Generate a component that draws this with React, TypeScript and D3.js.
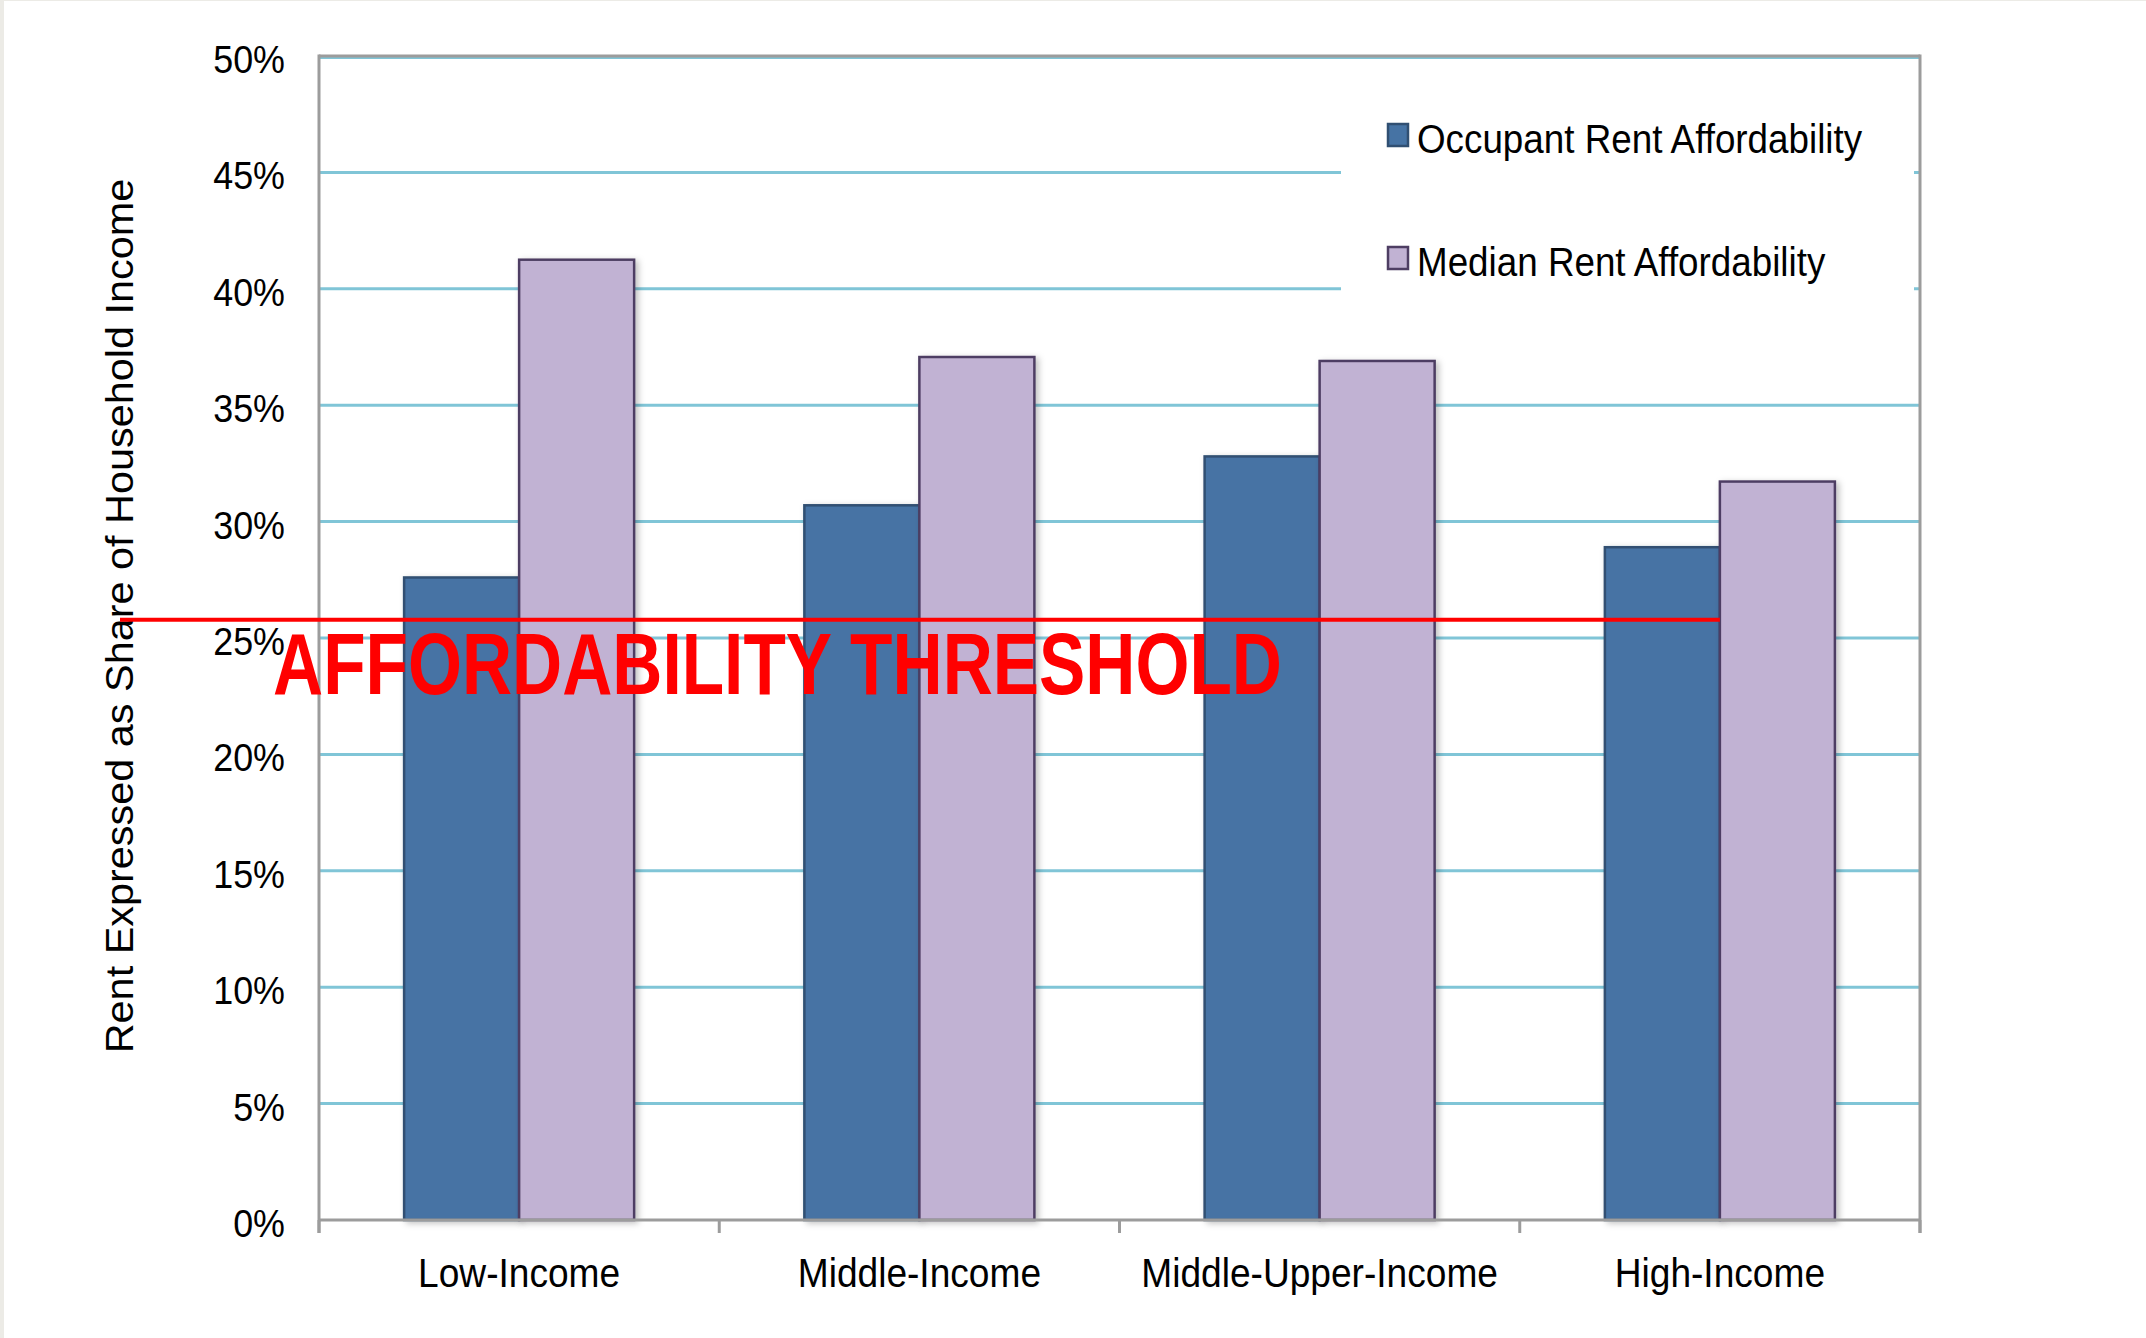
import React from "react";
import * as d3 from "d3";

const categories = ["Low-Income", "Middle-Income", "Middle-Upper-Income", "High-Income"];
const seriesNames = ["Occupant Rent Affordability", "Median Rent Affordability"];
const occupantValues = [27.6, 30.7, 32.8, 28.9];
const medianValues = [41.25, 37.07, 36.9, 31.72];
const yTicks = [0, 5, 10, 15, 20, 25, 30, 35, 40, 45, 50];
const thresholdValue = 25.78;
const thresholdLabel = "AFFORDABILITY THRESHOLD";
const yTitle = "Rent Expressed as Share of Household Income";

const W = 2146;
const H = 1338;
const M = { left: 319, right: 1920, top: 56, bottom: 1220 };

const fills = ["#4673A4", "#C1B2D3"];
const strokes = ["#304F72", "#4E3E63"];
const FONT = "'Liberation Sans', Arial, Helvetica, sans-serif";

export default function App() {
  const x0 = d3.scaleBand<string>().domain(categories).range([M.left, M.right]).paddingInner(0).paddingOuter(0);
  const x1 = d3.scaleBand<string>().domain(seriesNames).range([0, x0.bandwidth()]).paddingInner(0).paddingOuter(0.74);
  const y = d3.scaleLinear().domain([0, 50]).range([M.bottom, M.top]);
  const values = [occupantValues, medianValues];
  const boundaries = [...categories.map((c) => x0(c) as number), M.right];
  const ty = y(thresholdValue);
  const highCenter = (x0("High-Income") as number) + x0.bandwidth() / 2;

  return (
    <svg
      width={W}
      height={H}
      style={{ position: "absolute", left: 0, top: 0, display: "block" }}
      fontFamily={FONT}
    >
      <defs>
        <filter id="sh" x="-20%" y="-5%" width="140%" height="110%">
          <feDropShadow dx="3" dy="2" stdDeviation="3" floodColor="#000" floodOpacity="0.25" />
        </filter>
      </defs>
      <rect x={0} y={0} width={W} height={H} fill="#ECEBE6" />
      <rect x={4} y={1} width={W - 4} height={H - 1} fill="#FFFFFF" />

      {/* gridlines */}
      {yTicks.filter((t) => t > 0).map((t) => (
        <line key={"g" + t} x1={M.left} x2={M.right} y1={y(t) + (t === 50 ? 2 : 0)} y2={y(t) + (t === 50 ? 2 : 0)} stroke="#80C5D7" strokeWidth={t === 50 ? 2 : 3} />
      ))}

      {/* legend background */}
      <rect x={1341} y={80} width={573} height={260} fill="#FFFFFF" />

      {/* bars */}
      {categories.map((c, i) => (
        <g key={c} transform={`translate(${x0(c)},0)`}>
          {seriesNames.map((s, j) => {
            const v = values[j][i];
            return (
              <rect
                key={s}
                x={x1(s)}
                y={y(v)}
                width={x1.bandwidth()}
                height={y(0) - y(v)}
                fill={fills[j]}
                stroke={strokes[j]}
                strokeWidth={2.5}
                filter="url(#sh)"
              />
            );
          })}
        </g>
      ))}

      {/* plot border / axes */}
      <line x1={M.left} x2={M.right} y1={M.top} y2={M.top} stroke="#9C9C9C" strokeWidth={3} />
      <line x1={M.left} x2={M.left} y1={M.top - 1.5} y2={M.bottom + 13} stroke="#9C9C9C" strokeWidth={3} />
      <line x1={M.right} x2={M.right} y1={M.top - 1.5} y2={M.bottom + 13} stroke="#9C9C9C" strokeWidth={3} />
      <line x1={M.left} x2={M.right} y1={M.bottom} y2={M.bottom} stroke="#9C9C9C" strokeWidth={3} />
      {boundaries.map((b, i) => (
        <line key={"t" + i} x1={b} x2={b} y1={M.bottom} y2={M.bottom + 13} stroke="#9C9C9C" strokeWidth={3} />
      ))}

      {/* y tick labels */}
      {yTicks.map((t) => (
        <text
          key={"yl" + t}
          transform={`translate(285,${y(t) + 17}) scale(0.92,1)`}
          textAnchor="end"
          fontSize={39}
          fill="#000"
        >
          {t + "%"}
        </text>
      ))}

      {/* category labels */}
      {categories.map((c) => (
        <text
          key={"cl" + c}
          transform={`translate(${(x0(c) as number) + x0.bandwidth() / 2},1287) scale(0.905,1)`}
          textAnchor="middle"
          fontSize={41}
          fill="#000"
        >
          {c}
        </text>
      ))}

      {/* y title */}
      <text
        transform={`translate(133,616) rotate(-90) scale(1.09,1)`}
        textAnchor="middle"
        fontSize={38}
        fill="#000"
      >
        {yTitle}
      </text>

      {/* legend */}
      {seriesNames.map((s, j) => (
        <g key={"lg" + s} transform={`translate(0,${j * 123})`}>
          <rect x={1388} y={124} width={20} height={22} fill={fills[j]} stroke={strokes[j]} strokeWidth={2.5} />
          <text transform={`translate(1417,153) scale(0.92,1)`} fontSize={40} fill="#000">
            {s}
          </text>
        </g>
      ))}

      {/* threshold */}
      <line x1={120} x2={highCenter} y1={ty} y2={ty} stroke="#FF0000" strokeWidth={4} />
      <text
        transform={`translate(273,694) scale(0.798,1)`}
        fontSize={87}
        fontWeight="bold"
        fill="#FF0000"
      >
        {thresholdLabel}
      </text>
    </svg>
  );
}
